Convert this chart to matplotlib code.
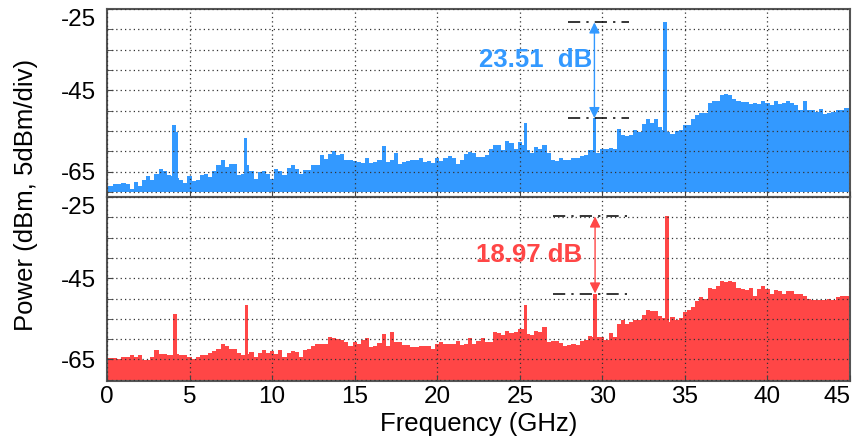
import numpy as np
import matplotlib
matplotlib.use("Agg")
import matplotlib.pyplot as plt

plt.rcParams['font.family'] = ['Liberation Sans', 'DejaVu Sans']
plt.rcParams['axes.unicode_minus'] = False

# spectrum floor, 0..45 GHz in 0.25 GHz bins (dBm)
freq_step = 0.25
top_floor = [
    -68.6, -68.6, -68.1, -67.9, -67.8, -68.1, -69.2, -67.5, -68.4, -67.1,
    -66.1, -67.1, -65.5, -64.3, -64.7, -65.7, -66.0, -66.5, -67.1, -67.8,
    -66.1, -67.3, -67.0, -65.9, -65.5, -66.3, -64.7, -63.4, -62.0, -63.9,
    -63.0, -63.2, -65.9, -65.5, -63.4, -64.7, -66.7, -65.1, -64.7, -65.5,
    -66.7, -64.3, -64.7, -65.9, -64.0, -63.4, -64.3, -65.5, -64.5, -64.5,
    -63.4, -63.4, -61.0, -61.8, -60.7, -59.9, -61.0, -60.6, -62.0, -62.2,
    -62.4, -62.5, -62.8, -61.6, -62.8, -62.5, -62.0, -58.7, -62.6, -62.1,
    -60.5, -63.1, -62.5, -62.4, -62.0, -62.1, -61.5, -62.5, -62.3, -62.9,
    -61.5, -62.4, -61.5, -61.1, -61.7, -63.0, -62.1, -60.7, -60.1, -60.5,
    -61.3, -61.3, -60.9, -59.5, -58.4, -58.3, -59.7, -57.4, -58.0, -59.3,
    -57.6, -58.4, -59.7, -60.3, -58.9, -59.3, -58.4, -60.5, -62.1, -62.4,
    -61.7, -62.1, -62.1, -61.7, -61.7, -61.1, -60.9, -59.7, -59.7, -60.3,
    -59.5, -59.5, -59.2, -59.5, -54.6, -55.9, -56.2, -55.9, -54.8, -55.2,
    -53.2, -52.0, -53.0, -52.0, -54.0, -54.8, -55.2, -55.7, -55.1, -54.8,
    -53.6, -53.6, -52.1, -51.0, -50.6, -50.5, -48.0, -47.5, -47.7, -46.2,
    -45.8, -46.1, -47.0, -47.7, -47.9, -47.9, -48.3, -48.0, -48.3, -47.7,
    -48.0, -48.7, -47.7, -48.3, -48.0, -47.5, -48.0, -48.7, -49.7, -47.5,
    -49.9, -49.9, -50.2, -49.5, -50.8, -50.5, -50.2, -49.8, -49.7, -49.3,
    -49.3,
]
bot_floor = [
    -64.6, -64.6, -64.7, -64.8, -64.4, -64.3, -63.8, -64.4, -64.0, -65.1,
    -65.2, -64.4, -62.6, -63.6, -63.6, -63.8, -64.0, -63.6, -64.0, -64.0,
    -64.3, -64.8, -64.3, -64.0, -64.0, -63.4, -63.0, -62.4, -61.1, -61.8,
    -62.4, -62.4, -63.4, -63.8, -63.6, -63.2, -64.4, -63.4, -62.6, -63.4,
    -63.0, -63.6, -62.8, -64.3, -63.4, -63.0, -63.2, -64.3, -62.8, -62.4,
    -61.6, -61.1, -61.1, -61.1, -59.5, -59.7, -59.9, -60.3, -60.7, -61.6,
    -60.7, -61.2, -60.2, -59.8, -61.9, -61.7, -60.9, -58.8, -61.7, -58.2,
    -60.7, -60.7, -61.5, -61.5, -62.0, -61.9, -61.7, -61.7, -61.7, -62.5,
    -61.2, -60.7, -61.2, -61.2, -61.2, -60.4, -61.5, -61.1, -59.8, -61.2,
    -60.4, -59.8, -60.7, -60.7, -58.3, -58.6, -59.0, -58.0, -58.4, -58.2,
    -57.6, -57.6, -58.8, -59.0, -58.0, -58.2, -57.1, -60.7, -60.4, -60.4,
    -60.9, -61.7, -61.5, -61.1, -61.5, -60.4, -60.1, -59.3, -59.6, -59.4,
    -59.5, -60.2, -58.5, -59.5, -56.2, -55.2, -56.4, -55.8, -55.2, -55.2,
    -54.1, -52.8, -53.0, -53.0, -54.4, -54.8, -55.8, -54.6, -55.2, -54.8,
    -53.4, -52.8, -52.1, -50.7, -49.7, -50.1, -47.4, -47.6, -47.0, -45.7,
    -46.0, -45.7, -46.0, -47.4, -47.6, -48.0, -47.4, -49.3, -47.6, -47.0,
    -47.6, -49.0, -48.0, -48.2, -48.9, -48.2, -48.2, -49.0, -49.0, -49.5,
    -50.1, -50.3, -50.3, -50.3, -50.3, -50.1, -50.3, -49.7, -49.5, -49.3,
    -49.3,
]

# discrete tones sitting on the floor
top_spur_f = [4.05, 4.22, 8.37, 25.34, 29.54, 33.80]
top_spur_db = [-53.4, -55.2, -56.6, -53.0, -51.81, -28.30]
bot_spur_f = [4.11, 8.45, 25.34, 29.56, 33.92]
bot_spur_db = [-53.8, -51.7, -51.6, -48.77, -29.80]

blue = '#3399ff'
red = '#ff4646'

fig = plt.figure(figsize=(8.56, 4.42), dpi=100)
ax1 = fig.add_axes([0.125, 0.5543, 0.868, 0.4253])
ax2 = fig.add_axes([0.125, 0.1391, 0.868, 0.4152], sharex=ax1)

freq = np.arange(len(top_floor)) * freq_step


def draw_panel(ax, floor, spur_f, spur_db, color, base, ylo):
    ax.fill_between(freq, floor, base, step='mid', color=color, lw=0, zorder=1)
    ax.bar(spur_f, np.array(spur_db) - base, bottom=base, width=0.2,
           color=color, lw=0, zorder=1)
    ax.set_xlim(0, 45)
    ax.set_ylim(ylo, -25)
    ax.set_yticks([-65, -45, -25])
    ax.set_yticks(np.arange(-70, -24, 5), minor=True)
    ax.set_xticks(np.arange(0, 46, 5))
    ax.set_axisbelow(False)
    ax.grid(True, which='both', color='#333333', linestyle=(0, (1, 2.5)), lw=0.9)
    ax.tick_params(which='both', direction='in', length=4, color='#444444')
    ax.tick_params(axis='y', labelsize=17.5, pad=8)
    ax.tick_params(axis='x', labelsize=17.5, pad=4)
    for s in ax.spines.values():
        s.set_color('#555555')
        s.set_linewidth(1.5)


def mark_delta(ax, f_arrow, hi, lo, x0, x1, color, text, tx, ty):
    for lvl in (hi, lo):
        ax.plot([x0, x1], [lvl, lvl], color='black', lw=1.1,
                dashes=(8, 4, 1.5, 4), zorder=4)
    ax.annotate('', xy=(f_arrow, hi), xytext=(f_arrow, lo),
                arrowprops=dict(arrowstyle='<|-|>', color=color, lw=1.0,
                                mutation_scale=16, shrinkA=0, shrinkB=0),
                zorder=5)
    ax.text(tx, ty, text, color=color, fontsize=18.5, fontweight='bold',
            ha='right', va='center', zorder=5)


draw_panel(ax1, top_floor, top_spur_f, top_spur_db, blue, -70, -71.2)
draw_panel(ax2, bot_floor, bot_spur_f, bot_spur_db, red, -70.2, -70.2)
ax1.tick_params(labelbottom=False)

d_top = top_spur_db[-1] - top_spur_db[-2]
d_bot = bot_spur_db[-1] - bot_spur_db[-2]
mark_delta(ax1, 29.52, top_spur_db[-1], top_spur_db[-2], 27.9, 31.6, blue,
           f'{d_top:.2f}  dB', 29.4, -37.6)
mark_delta(ax2, 29.56, bot_spur_db[-1], bot_spur_db[-2], 27.0, 31.5, red,
           f'{d_bot:.2f} dB', 28.8, -39.4)

# keep edge labels inside the frame
fig.canvas.draw()
ax2.get_xticklabels()[-1].set_horizontalalignment('right')
for ax in (ax1, ax2):
    ax.get_yticklabels()[-1].set_verticalalignment('top')

ax2.set_xlabel('Frequency (GHz)', fontsize=18.5, labelpad=3)
fig.text(0.03, 0.56, 'Power (dBm, 5dBm/div)', rotation=90, fontsize=18.5,
         ha='center', va='center')

fig.savefig('out.png', dpi=100)
